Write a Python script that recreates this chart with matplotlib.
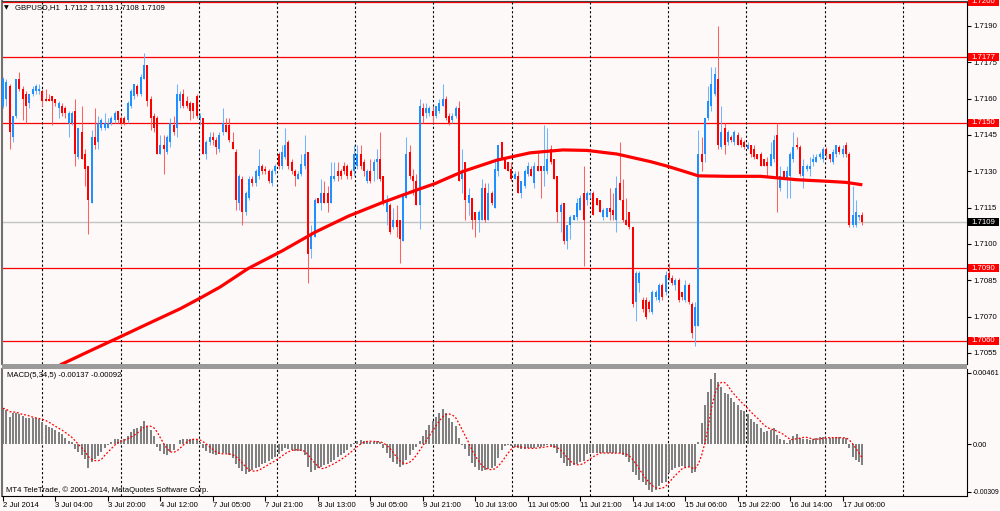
import numpy as np
import pandas as pd
import matplotlib
matplotlib.use("Agg")
import matplotlib.pyplot as plt
import matplotlib.transforms as mtransforms
from matplotlib.patches import Rectangle

plt.rcParams['font.family'] = ['Liberation Sans', 'DejaVu Sans']

# ---- data: GBPUSD H1, 263 bars, prices in pips above 1.7000 ----
BASE = 1.7000
PIP = 0.0001

o_pips = [157, 160, 165, 144, 153, 168, 164, 162, 158, 162,
          163, 163, 163, 160, 160, 161, 160, 156, 157, 156,
          150, 150, 155, 136, 146, 137, 132, 117, 144, 142,
          148, 148, 148, 150, 151, 155, 152, 152, 151, 157,
          161, 165, 162, 168, 174, 160, 153, 152, 137, 141,
          138, 142, 149, 148, 159, 162, 159, 158, 158, 161,
          152, 152, 137, 142, 144, 143, 139, 146, 149, 149,
          142, 138, 117, 127, 113, 119, 127, 125, 128, 132,
          131, 130, 125, 130, 137, 132, 136, 142, 134, 130,
          127, 129, 132, 138, 98, 103, 119, 117, 121, 121,
          117, 127, 130, 130, 132, 132, 130, 130, 132, 137,
          134, 126, 130, 130, 134, 135, 128, 113, 116, 107,
          110, 110, 101, 119, 138, 128, 126, 116, 156, 154,
          154, 155, 153, 155, 157, 160, 153, 151, 153, 156,
          127, 134, 117, 119, 113, 110, 110, 123, 110, 121,
          115, 130, 142, 136, 134, 131, 127, 128, 121, 124,
          129, 131, 125, 132, 132, 130, 130, 139, 135, 128,
          113, 117, 101, 108, 110, 111, 114, 121, 118, 120,
          121, 119, 118, 111, 111, 115, 114, 110, 125, 118,
          110, 113, 107, 76, 84, 77, 77, 76, 72, 78,
          77, 83, 80, 88, 86, 83, 85, 80, 77, 83,
          75, 66, 66, 137, 137, 152, 157, 162, 168, 140,
          148, 142, 144, 142, 145, 143, 142, 139, 141, 139,
          137, 137, 135, 134, 132, 135, 145, 123, 130, 127,
          128, 135, 141, 140, 128, 131, 131, 134, 134, 136,
          135, 139, 137, 134, 137, 140, 137, 141, 137, 108,
          108, 111, 112]

h_pips = [169, 168, 166, 153, 168, 171, 165, 163, 162, 165,
          166, 166, 164, 164, 162, 161, 160, 159, 158, 157,
          155, 155, 160, 148, 157, 139, 132, 147, 156, 153,
          152, 154, 152, 153, 155, 155, 153, 153, 159, 164,
          166, 166, 170, 179, 174, 161, 154, 153, 145, 145,
          145, 152, 153, 166, 163, 164, 161, 159, 158, 162,
          154, 152, 143, 146, 146, 144, 146, 156, 152, 152,
          146, 139, 129, 128, 122, 128, 128, 131, 139, 133,
          132, 131, 131, 133, 138, 141, 148, 143, 135, 131,
          130, 137, 145, 138, 108, 119, 119, 127, 126, 124,
          134, 134, 134, 131, 134, 133, 131, 141, 141, 141,
          135, 131, 135, 135, 139, 146, 128, 120, 117, 115,
          116, 110, 121, 144, 141, 131, 129, 160, 158, 158,
          157, 157, 157, 160, 166, 161, 154, 154, 157, 159,
          139, 134, 123, 119, 113, 114, 127, 125, 125, 122,
          135, 141, 142, 136, 134, 134, 130, 130, 126, 131,
          134, 132, 134, 138, 132, 149, 148, 141, 135, 128,
          117, 117, 108, 112, 112, 119, 120, 132, 122, 122,
          122, 119, 118, 115, 115, 123, 121, 128, 142, 127,
          119, 113, 107, 89, 89, 78, 78, 77, 81, 81,
          84, 84, 89, 92, 87, 86, 86, 80, 85, 84,
          76, 76, 147, 144, 152, 165, 173, 173, 190, 157,
          150, 147, 145, 147, 146, 144, 143, 142, 141, 141,
          137, 138, 135, 136, 142, 145, 150, 132, 130, 132,
          138, 146, 144, 141, 135, 133, 136, 137, 137, 138,
          140, 140, 137, 139, 141, 141, 141, 142, 138, 124,
          118, 112, 113]

l_pips = [156, 157, 139, 142, 152, 163, 151, 150, 156, 161,
          162, 162, 157, 159, 159, 149, 157, 152, 153, 152,
          144, 149, 132, 135, 135, 124, 104, 117, 139, 139,
          147, 147, 148, 149, 150, 150, 149, 149, 150, 156,
          160, 161, 161, 168, 157, 147, 146, 137, 137, 129,
          137, 140, 145, 144, 156, 156, 156, 151, 152, 152,
          149, 137, 135, 141, 141, 137, 138, 145, 146, 142,
          139, 114, 114, 108, 112, 118, 124, 124, 127, 129,
          129, 125, 124, 129, 131, 131, 135, 131, 129, 124,
          127, 128, 131, 84, 94, 103, 117, 114, 117, 113,
          117, 126, 126, 127, 129, 127, 127, 128, 131, 131,
          128, 125, 125, 126, 127, 126, 116, 108, 104, 106,
          103, 92, 101, 119, 127, 120, 116, 106, 150, 152,
          153, 150, 152, 154, 157, 151, 149, 150, 152, 126,
          121, 110, 112, 106, 103, 105, 110, 109, 110, 116,
          115, 128, 135, 131, 130, 126, 127, 121, 119, 123,
          128, 128, 123, 130, 119, 124, 129, 133, 127, 109,
          105, 100, 98, 102, 110, 110, 114, 91, 116, 119,
          112, 116, 113, 110, 111, 110, 110, 105, 118, 109,
          108, 106, 74, 68, 80, 72, 69, 72, 71, 77,
          76, 77, 79, 85, 83, 81, 76, 77, 76, 75,
          61, 58, 66, 130, 134, 151, 155, 161, 139, 139,
          137, 141, 142, 141, 141, 140, 139, 139, 136, 135,
          135, 132, 132, 128, 132, 134, 113, 122, 127, 119,
          119, 134, 139, 128, 123, 130, 128, 132, 134, 135,
          134, 135, 134, 133, 136, 137, 136, 136, 107, 107,
          107, 110, 108]

c_pips = [168, 167, 146, 153, 168, 164, 160, 157, 162, 164,
          165, 164, 159, 159, 159, 159, 158, 158, 154, 154,
          154, 154, 137, 148, 135, 131, 118, 144, 141, 150,
          151, 150, 150, 152, 154, 151, 150, 150, 158, 163,
          166, 162, 169, 174, 159, 152, 148, 137, 141, 139,
          144, 150, 146, 162, 162, 157, 157, 155, 155, 153,
          153, 137, 142, 144, 143, 140, 145, 150, 146, 143,
          139, 118, 128, 113, 121, 127, 125, 130, 132, 130,
          130, 126, 130, 132, 132, 138, 141, 132, 130, 128,
          129, 133, 137, 96, 104, 118, 117, 121, 117, 117,
          128, 128, 128, 128, 130, 128, 128, 137, 137, 132,
          130, 130, 126, 134, 135, 127, 117, 118, 105, 110,
          107, 102, 120, 137, 128, 126, 116, 157, 153, 156,
          156, 153, 157, 158, 160, 152, 150, 153, 156, 126,
          130, 118, 120, 110, 110, 113, 123, 110, 121, 117,
          131, 141, 135, 131, 130, 127, 129, 121, 126, 130,
          132, 128, 132, 130, 130, 132, 135, 134, 127, 113,
          116, 101, 108, 111, 112, 117, 119, 110, 121, 121,
          112, 116, 113, 114, 115, 113, 112, 123, 118, 110,
          108, 107, 75, 88, 88, 73, 70, 73, 80, 80,
          83, 78, 87, 86, 84, 85, 77, 78, 83, 76,
          63, 74, 137, 134, 152, 159, 166, 170, 141, 146,
          141, 146, 143, 146, 141, 141, 140, 141, 137, 136,
          135, 132, 132, 132, 137, 143, 127, 128, 127, 130,
          137, 140, 140, 129, 132, 132, 132, 135, 136, 137,
          139, 137, 135, 138, 141, 138, 139, 137, 108, 112,
          113, 112, 109]

# long moving average (red), read at a number of bars
ma_bar = [17.4, 26.5, 35.7, 44.8, 54.0, 60.1, 66.2, 74.7, 85.1, 95.1, 105.2, 115.5,
          125.6, 131.7, 140.2, 150.6, 160.7, 170.7, 178.0, 187.2, 197.3, 202, 208,
          212, 221, 231, 242, 252, 257, 262]
ma_val = [1.70500, 1.70558, 1.70616, 1.70674, 1.70732, 1.70776, 1.70822, 1.70898,
          1.70971, 1.71048, 1.71114, 1.71170, 1.71220, 1.71249, 1.71299, 1.71346,
          1.71376, 1.71388, 1.71386, 1.71371, 1.71340, 1.71323, 1.71298, 1.71281,
          1.71279, 1.71279, 1.71265, 1.71258, 1.71254, 1.71244]

# MACD(5,34,5) main values in units of 0.00001
MACD_UNIT = 0.00001
macd_units = [231, 220, 177, 199, 203, 192, 181, 166, 166, 166,
              166, 160, 144, 123, 112, 102, 91, 80, 65, 37,
              19, 15, -32, -52, -71, -97, -155, -116, -97, -78,
              -52, -26, -6, 11, 30, 30, 26, 30, 52, 80,
              95, 102, 116, 149, 116, 91, 52, -19, -45, -65,
              -71, -52, -39, 2, 26, 32, 32, 32, 30, 26,
              13, -26, -45, -58, -65, -71, -65, -58, -58, -71,
              -91, -129, -155, -175, -194, -183, -168, -157, -147, -131,
              -121, -108, -95, -82, -65, -43, -28, -34, -39, -43,
              -43, -43, -71, -147, -179, -168, -157, -147, -136, -129,
              -115, -104, -86, -71, -56, -39, -17, 6, 19, 26,
              19, 13, 13, 13, 19, 13, -28, -60, -93, -115,
              -129, -147, -136, -104, -71, -39, -17, 19, 52, 91,
              123, 149, 175, 201, 226, 201, 168, 142, 116, 39,
              -6, -32, -78, -123, -149, -168, -175, -168, -162, -155,
              -142, -91, -39, -13, -6, -13, -19, -26, -32, -32,
              -26, -26, -26, -19, -19, -13, -6, -13, -26, -58,
              -91, -123, -142, -142, -136, -129, -116, -110, -65, -58,
              -58, -58, -56, -60, -60, -60, -60, -56, -60, -71,
              -82, -115, -179, -201, -233, -244, -265, -298, -309, -296,
              -272, -254, -244, -190, -168, -157, -147, -142, -147, -147,
              -186, -179, 15, 134, 252, 338, 419, 461, 403, 371,
              332, 324, 296, 274, 252, 220, 215, 194, 160, 144,
              127, 102, 80, 84, 91, 102, 58, 30, 26, 8,
              26, 52, 65, 37, 32, 30, 26, 30, 37, 43,
              47, 41, 37, 39, 43, 43, 39, 37, -28, -82,
              -104, -115, -137]

levels = [1.7200, 1.7177, 1.7150, 1.7090, 1.7060]
bid = 1.7109
price_ticks = [1.7055, 1.7070, 1.7085, 1.7100, 1.7115, 1.7130, 1.7145, 1.7160, 1.7175, 1.7190]
macd_ticks = [-0.00309, 0.0, 0.00461]
macd_tick_labels = ['-0.00309', '0.00', '0.00461']

date_bars = [0, 16, 32, 48, 64, 80, 96, 112, 128, 144, 160, 176, 192, 208, 224, 240, 256]
date_labels = ['2 Jul 2014', '3 Jul 04:00', '3 Jul 20:00', '4 Jul 12:00', '7 Jul 05:00',
               '7 Jul 21:00', '8 Jul 13:00', '9 Jul 05:00', '9 Jul 21:00', '10 Jul 13:00',
               '11 Jul 05:00', '11 Jul 21:00', '14 Jul 14:00', '15 Jul 06:00', '15 Jul 22:00',
               '16 Jul 14:00', '17 Jul 06:00']

# ---- prepare ----
opens = BASE + np.array(o_pips) * PIP
highs = BASE + np.array(h_pips) * PIP
lows = BASE + np.array(l_pips) * PIP
closes = BASE + np.array(c_pips) * PIP
n = len(closes)
x = np.arange(n)

macd = np.array(macd_units) * MACD_UNIT
signal = pd.Series(macd).rolling(5, min_periods=1).mean().values

BG = '#fdf9f9'
BULL, BULL_W = '#1e90ff', '#6fb5ff'
BEAR, BEAR_W = '#ff0000', '#ff6060'
W, H = 1000, 511
PX_PER_BAR = 3.28


def fig_rect(x0, y0, x1, y1):
    return [x0 / W, 1 - y1 / H, (x1 - x0) / W, (y1 - y0) / H]


fig = plt.figure(figsize=(10, 5.11), dpi=100, facecolor=BG)
ax = fig.add_axes(fig_rect(2, 1, 967, 364), facecolor=BG)
ax2 = fig.add_axes(fig_rect(2, 369, 967, 495.5), facecolor=BG)

xlim = ((2 - 3) / PX_PER_BAR, (967 - 3) / PX_PER_BAR)
grid_x = [11.98 + 23.85 * k for k in range(12)]

# ---- main price panel ----
for lv in levels:
    ax.axhline(lv, color='red', lw=0.9, zorder=1)
ax.axhline(bid, color='#c4c4c4', lw=1.0, zorder=1)
for gx in grid_x:
    ax.axvline(gx, color='black', lw=0.8, linestyle=(0, (2, 2)), zorder=1.2)

up = closes >= opens
wick_cols = np.where(up, BULL_W, BEAR_W)
body_cols = np.where(up, BULL, BEAR)
ax.vlines(x, lows, highs, colors=wick_cols, lw=0.75, zorder=2)
body_h = np.maximum(np.abs(closes - opens), 0.00003)
ax.bar(x, body_h, bottom=np.minimum(opens, closes), width=0.62,
       color=body_cols, linewidth=0, zorder=3)

ax.plot(ma_bar, ma_val, color='red', lw=2.3, zorder=4,
        solid_capstyle='butt', solid_joinstyle='round')

ax.set_xlim(*xlim)
ax.set_ylim(1.70504, 1.72003)
ax.yaxis.tick_right()
ax.set_yticks(price_ticks)
ax.set_yticklabels([f'{v:.4f}' for v in price_ticks])
ax.tick_params(axis='y', direction='out', length=3, width=0.8, pad=1.5,
               labelsize=5.6, colors='black')
ax.tick_params(axis='x', bottom=False, labelbottom=False)
ax.spines['bottom'].set_visible(False)
ax.spines['top'].set_color('#404040')
ax.spines['left'].set_color('#707070')
ax.spines['left'].set_linewidth(1.5)
ax.spines['right'].set_color('black')

# price labels on the right axis
tr = mtransforms.blended_transform_factory(ax.transAxes, ax.transData)
box_h = 8 / 24100
for lv in levels:
    ax.add_patch(Rectangle((1.001, lv - box_h / 2), 0.032, box_h, transform=tr,
                           facecolor='red', edgecolor='none', clip_on=False, zorder=5))
    ax.text(1.005, lv, f'{lv:.4f}', transform=tr, color='white', fontsize=5.6,
            va='center', ha='left', clip_on=False, zorder=6)
ax.add_patch(Rectangle((1.001, bid - box_h / 2), 0.032, box_h, transform=tr,
                       facecolor='black', edgecolor='none', clip_on=False, zorder=5))
ax.text(1.005, bid, f'{bid:.4f}', transform=tr, color='white', fontsize=5.6,
        va='center', ha='left', clip_on=False, zorder=6)

# ---- MACD panel ----
for gx in grid_x:
    ax2.axvline(gx, color='black', lw=0.8, linestyle=(0, (2, 2)), zorder=1)
ax2.bar(x, macd, width=0.62, color='#808080', linewidth=0, zorder=2)
ax2.plot(x, signal, color='red', lw=0.9, linestyle=(0, (1.5, 1.5)), zorder=3)

ax2.set_xlim(*xlim)
ax2.set_ylim(-0.00333, 0.00485)
ax2.yaxis.tick_right()
ax2.set_yticks(macd_ticks)
ax2.set_yticklabels(macd_tick_labels)
ax2.tick_params(axis='y', direction='out', length=3, width=0.8, pad=1.0,
                labelsize=5.3, colors='black')
ax2.get_yticklabels()[0].set_fontsize(4.9)
ax2.set_xticks(date_bars)
ax2.set_xticklabels(date_labels)
ax2.tick_params(axis='x', direction='out', length=3.5, width=0.8, pad=1.2,
                labelsize=5.6, colors='black')
for lbl in ax2.get_xticklabels():
    lbl.set_horizontalalignment('left')
ax2.spines['top'].set_visible(False)
ax2.spines['left'].set_color('#707070')
ax2.spines['left'].set_linewidth(1.5)
ax2.spines['right'].set_color('black')
ax2.spines['bottom'].set_color('black')

# separator between panels
fig.patches.append(Rectangle((2 / W, 1 - 368.5 / H), 965 / W, 4.5 / H,
                             transform=fig.transFigure, facecolor='#9a9a9a',
                             edgecolor='none'))

# ---- texts ----
fig.text(4 / W, 1 - 8 / H, '▼', fontsize=4.5, family='DejaVu Sans', va='center')
fig.text(15 / W, 1 - 8 / H, 'GBPUSD,H1  1.7112 1.7113 1.7108 1.7109',
         fontsize=5.6, va='center')
fig.text(7 / W, 1 - 375 / H, 'MACD(5,34,5) -0.00137 -0.00092', fontsize=5.6, va='center')
fig.text(6 / W, 1 - 490 / H, 'MT4 TeleTrade, © 2001-2014, MetaQuotes Software Corp.',
         fontsize=5.6, va='center')

fig.savefig('out.png', dpi=100, facecolor=BG)
